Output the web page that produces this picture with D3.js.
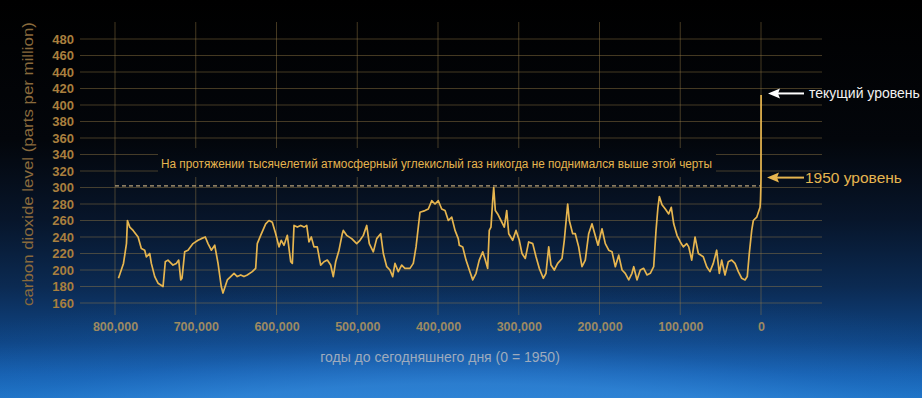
<!DOCTYPE html>
<html>
<head>
<meta charset="utf-8">
<script src="https://cdn.jsdelivr.net/npm/d3@7"></script>
<style>
  html, body { margin: 0; padding: 0; background: #000; }
  svg { display: block; font-family: "Liberation Sans", Arial, sans-serif; }
</style>
</head>
<body>
<svg id="chart"></svg>
<script>
const WIDTH = 922;
const HEIGHT = 398;

// Thousands of years before present (0 = 1950) and CO2 in ppm.
const years = [
  795.7, 789.5, 785.8, 784.6, 781.7, 777.6, 771.4, 767.4, 763.2, 761.2,
  757.0, 755.0, 750.8, 746.7, 740.5, 737.7, 734.4, 728.2, 724.1, 721.1,
  718.6, 717.0, 713.7, 709.6, 703.4, 697.2, 693.1, 688.2, 684.8, 680.7,
  676.5, 672.4, 668.4, 666.3, 660.9, 656.7, 652.6, 648.6, 644.3, 640.3,
  636.2, 630.0, 625.8, 623.8, 619.6, 613.4, 609.3, 605.2, 601.0, 596.9,
  594.1, 590.7, 586.6, 582.4, 580.4, 578.3, 574.2, 570.0, 565.9, 562.6,
  559.8, 556.9, 553.6, 549.5, 545.3, 541.2, 537.1, 532.9, 529.7, 526.7,
  522.6, 518.5, 517.3, 513.1, 506.9, 500.7, 496.6, 492.5, 488.3, 485.1,
  480.1, 475.9, 471.0, 467.7, 463.5, 459.5, 456.1, 453.3, 449.2, 445.0,
  440.9, 434.7, 430.6, 427.2, 424.4, 422.3, 416.1, 412.0, 407.8, 403.7,
  399.6, 395.4, 391.3, 387.2, 383.0, 378.9, 374.9, 373.6, 369.4, 365.3,
  361.2, 357.0, 352.9, 348.9, 344.6, 341.4, 338.5, 336.5, 334.4, 332.3,
  331.0, 329.0, 326.1, 322.0, 317.9, 314.9, 312.4, 307.5, 303.4, 299.3,
  296.0, 291.9, 287.7, 282.7, 278.6, 274.6, 269.6, 266.3, 262.9, 260.1,
  256.0, 251.8, 246.4, 243.6, 239.4, 237.4, 233.2, 230.0, 225.8, 221.7,
  217.6, 213.4, 209.3, 205.9, 201.9, 196.9, 192.8, 188.6, 184.5, 180.4,
  176.2, 172.1, 168.1, 163.8, 159.8, 157.6, 153.6, 149.5, 145.3, 141.2,
  137.1, 132.9, 130.0, 127.6, 125.9, 122.6, 118.5, 114.3, 111.1, 108.1,
  104.0, 99.9, 96.2, 92.0, 89.5, 85.8, 81.7, 77.6, 71.5, 67.2,
  63.2, 59.1, 54.9, 51.6, 48.7, 44.6, 40.5, 36.3, 32.2, 28.1,
  23.9, 19.8, 17.0, 14.5, 11.5, 9.5, 5.3, 1.2, 0.6, 0.2,
  0, -0.1
];
const co2 = [
  190, 208, 232, 260, 252, 248, 240, 226, 224, 216,
  220, 208, 192, 184, 180, 210, 212, 206, 208, 212,
  188, 190, 222, 224, 232, 236, 238, 240, 232, 224,
  230, 208, 180, 172, 188, 192, 196, 192, 194, 192,
  194, 198, 202, 232, 242, 256, 260, 258, 244, 228,
  236, 230, 242, 210, 208, 254, 252, 254, 252, 254,
  234, 240, 228, 228, 206, 210, 212, 206, 192, 210,
  224, 244, 248, 242, 238, 232, 236, 242, 254, 232,
  222, 238, 244, 220, 204, 200, 192, 208, 198, 206,
  202, 202, 208, 228, 252, 270, 272, 274, 284, 280,
  284, 274, 272, 260, 264, 248, 238, 230, 228, 212,
  200, 188, 196, 212, 222, 212, 202, 248, 252, 284,
  300, 272, 268, 260, 252, 272, 244, 236, 248, 236,
  220, 214, 234, 232, 216, 202, 190, 196, 228, 206,
  200, 208, 214, 236, 280, 260, 244, 244, 228, 204,
  212, 244, 256, 244, 230, 250, 232, 224, 222, 204,
  218, 200, 196, 188, 196, 204, 188, 200, 202, 194,
  196, 204, 248, 276, 289, 279, 274, 268, 276, 256,
  242, 234, 228, 232, 228, 212, 240, 220, 216, 204,
  198, 208, 224, 196, 212, 194, 210, 212, 208, 198,
  190, 188, 192, 220, 248, 260, 264, 276, 285, 300,
  312, 412
];

const yTicks = d3.range(160, 481, 20);
const xTicks = [800, 700, 600, 500, 400, 300, 200, 100, 0];

const yTitle = 'carbon dioxide level (parts per million)';
const xTitle = 'годы до сегодняшнего дня (0 = 1950)';
const noteText = 'На протяжении тысячелетий атмосферный углекислый газ никогда не поднимался выше этой черты';
const currentLabel = 'текущий уровень';
const label1950 = '1950 уровень';
const threshold = 302;
const currentLevel = 412;
const level1950 = 312;

const GOLD = '#e6b54f';
const GRID = 'rgba(150, 125, 70, 0.45)';

const svg = d3.select('#chart')
  .attr('width', WIDTH)
  .attr('height', HEIGHT)
  .attr('viewBox', `0 0 ${WIDTH} ${HEIGHT}`);

// Background: black sky fading to the blue glow of the earth.
const defs = svg.append('defs');
const bg = defs.append('linearGradient')
  .attr('id', 'bg')
  .attr('gradientUnits', 'userSpaceOnUse')
  .attr('x1', 0).attr('y1', 0).attr('x2', 0).attr('y2', HEIGHT);
[
  [0, '#000000'], [0.35, '#03060b'], [0.55, '#07152a'], [0.72, '#0b2a52'],
  [0.86, '#0f4585'], [0.94, '#1660b0'], [1, '#1d74c6']
].forEach(([o, c]) => bg.append('stop').attr('offset', o).attr('stop-color', c));

const glow = defs.append('radialGradient')
  .attr('id', 'glow').attr('cx', 0.5).attr('cy', 1.9).attr('r', 1.2);
glow.append('stop').attr('offset', 0.78).attr('stop-color', '#3a8ee0').attr('stop-opacity', 0.55);
glow.append('stop').attr('offset', 0.86).attr('stop-color', '#2a78d0').attr('stop-opacity', 0.2);
glow.append('stop').attr('offset', 1).attr('stop-color', '#1b5fa8').attr('stop-opacity', 0);

svg.append('rect').attr('width', WIDTH).attr('height', HEIGHT).attr('fill', 'url(#bg)');
svg.append('rect').attr('width', WIDTH).attr('height', HEIGHT).attr('fill', 'url(#glow)');

const x = d3.scaleLinear().domain([800, 0]).range([115, 761]);
const y = d3.scaleLinear().domain([160, 480]).range([303, 39]);

// Grid lines.
const grid = svg.append('g');
grid.selectAll('.h')
  .data(yTicks)
  .join('line')
  .attr('x1', 80).attr('x2', 822)
  .attr('y1', d => y(d)).attr('y2', d => y(d))
  .attr('stroke', GRID).attr('stroke-width', 1);
grid.selectAll('.v')
  .data(xTicks)
  .join('line')
  .attr('x1', d => x(d)).attr('x2', d => x(d))
  .attr('y1', 22).attr('y2', 315)
  .attr('stroke', GRID).attr('stroke-width', 1);

// Y axis labels.
const yAxis = svg.append('g')
  .attr('transform', 'translate(80,0)')
  .call(d3.axisLeft(y).tickValues(yTicks).tickSize(0).tickPadding(6));
yAxis.select('.domain').remove();
yAxis.selectAll('text')
  .attr('fill', '#a97f3e')
  .style('font-size', '13px')
  .style('font-weight', 'bold')
  .style('font-family', '"Liberation Sans", Arial, sans-serif');

// X axis labels.
const xAxis = svg.append('g')
  .attr('transform', 'translate(0,315)')
  .call(d3.axisBottom(x).tickValues(xTicks).tickSize(0).tickPadding(7)
    .tickFormat(d => d3.format(',')(d * 1000)));
xAxis.select('.domain').remove();
xAxis.selectAll('text')
  .attr('fill', '#9d8a62')
  .style('font-size', '12.5px')
  .style('font-weight', 'bold')
  .style('font-family', '"Liberation Sans", Arial, sans-serif');

// Axis titles.
svg.append('text')
  .attr('transform', 'translate(33,164) rotate(-90)')
  .attr('text-anchor', 'middle')
  .attr('fill', '#8a6a3c')
  .attr('textLength', 284)
  .attr('lengthAdjust', 'spacingAndGlyphs')
  .style('font-size', '15.5px')
  .text(yTitle);

svg.append('text')
  .attr('x', 440).attr('y', 362)
  .attr('text-anchor', 'middle')
  .attr('fill', '#9eabbd')
  .style('font-size', '14px')
  .text(xTitle);

// Note box above the threshold line, blending with the background.
svg.append('rect')
  .attr('x', 158).attr('y', 148).attr('width', 558).attr('height', 29)
  .attr('fill', 'url(#bg)');
svg.append('text')
  .attr('x', 161).attr('y', 167.5)
  .attr('fill', GOLD)
  .attr('textLength', 551)
  .attr('lengthAdjust', 'spacingAndGlyphs')
  .style('font-size', '12.5px')
  .text(noteText);

// Threshold dashed line.
svg.append('line')
  .attr('x1', x(800)).attr('x2', x(0))
  .attr('y1', y(threshold)).attr('y2', y(threshold))
  .attr('stroke', '#b8a27a').attr('stroke-width', 1.3)
  .attr('stroke-dasharray', '4,3');

// CO2 record.
const points = years.map((yr, i) => [yr, co2[i]]);
svg.append('path')
  .datum(points)
  .attr('fill', 'none')
  .attr('stroke', GOLD)
  .attr('stroke-width', 1.7)
  .attr('stroke-linejoin', 'round')
  .attr('d', d3.line().x(d => x(d[0])).y(d => y(d[1])));

// Arrows and labels on the right.
function arrow(yVal, color, x1, x2) {
  const yy = y(yVal);
  svg.append('line')
    .attr('x1', x1 + 8).attr('x2', x2)
    .attr('y1', yy).attr('y2', yy)
    .attr('stroke', color).attr('stroke-width', 2);
  svg.append('path')
    .attr('d', `M${x1},${yy} L${x1 + 12},${yy - 5} L${x1 + 10},${yy} L${x1 + 12},${yy + 5} Z`)
    .attr('fill', color);
}

arrow(currentLevel + 2, '#ffffff', 768, 804);
svg.append('text')
  .attr('x', 809).attr('y', y(currentLevel + 2) + 5)
  .attr('fill', '#f2f2f2')
  .style('font-size', '14px')
  .text(currentLabel);

arrow(level1950, GOLD, 767, 804);
svg.append('text')
  .attr('x', 805).attr('y', y(level1950) + 5.5)
  .attr('fill', GOLD)
  .style('font-size', '15.5px')
  .text(label1950);
</script>
</body>
</html>
